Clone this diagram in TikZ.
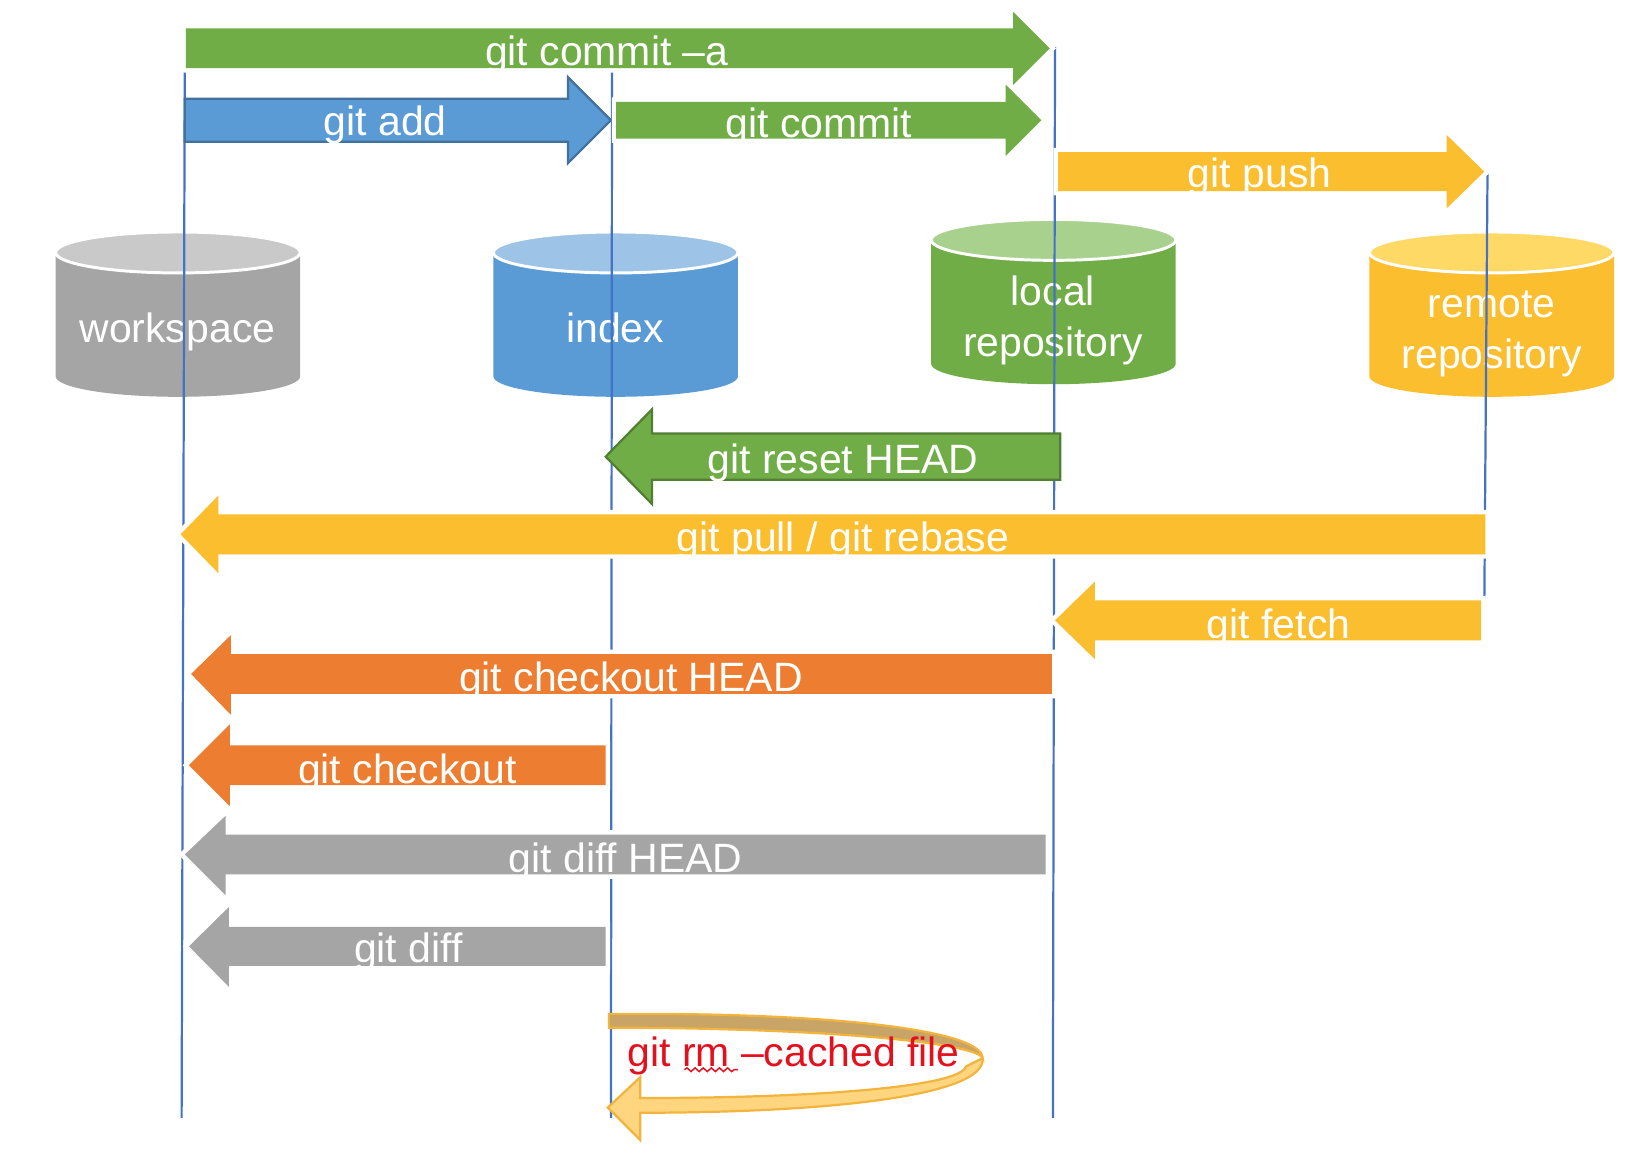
\documentclass[tikz,border=0pt]{standalone}
\usepackage{fontspec}
\setmainfont{Liberation Sans}
\usepackage{tikz}
\usetikzlibrary{decorations.pathmorphing}

\definecolor{gitgreen}{HTML}{70AD47}
\definecolor{gitgreenlt}{HTML}{A9D18E}
\definecolor{gitgreendk}{HTML}{507E32}
\definecolor{gitblue}{HTML}{5B9BD5}
\definecolor{gitbluelt}{HTML}{9DC3E6}
\definecolor{gitbluedk}{HTML}{41719C}
\definecolor{gitgold}{HTML}{FBBE2E}
\definecolor{gitgoldlt}{HTML}{FFD966}
\definecolor{gitorange}{HTML}{ED7D31}
\definecolor{gitgray}{HTML}{A5A5A5}
\definecolor{gitgraylt}{HTML}{C9C9C9}
\definecolor{lifeblue}{HTML}{4472C4}
\definecolor{ribbon}{HTML}{FFD580}
\definecolor{ribbonback}{HTML}{C9A467}
\definecolor{ribbonedge}{HTML}{F2B43C}
\definecolor{rmred}{HTML}{E3101E}

\begin{document}
\begin{tikzpicture}[
    blk/.style={fill=#1, preaction={draw=white, line width=2.4pt}},
    lbl/.style={text=white, inner sep=0pt, anchor=base, font=\fontsize{11.1pt}{13.9pt}\selectfont},
    life/.style={lifeblue, line width=0.6pt},
    pics/db/.style 2 args={code={
      \fill[#1] (-1.165,0) -- (-1.165,-1.18) arc[start angle=180, end angle=360, x radius=1.165, y radius=0.195] -- (1.165,0) -- cycle;
      \filldraw[fill=#2, draw=white, line width=0.8pt] (0,0) ellipse [x radius=1.165, y radius=0.195];
    }}]
  \useasboundingbox (0,0) rectangle (15.68,-11.20);

  % the four stores
  \pic at (1.695,-2.405) {db={gitgray}{gitgraylt}};
  \pic at (5.865,-2.405) {db={gitblue}{gitbluelt}};
  \pic at (10.035,-2.285) {db={gitgreen}{gitgreenlt}};
  \pic at (14.21,-2.405) {db={gitgold}{gitgoldlt}};
  \node (ws) [lbl] at (1.69,-3.26) {workspace};
  \node (ix) [lbl] at (5.86,-3.26) {index};
  \node (lo) [lbl, align=center] at (10.03,-3.40) {local\\repository};
  \node (re) [lbl, align=center] at (14.21,-3.51) {remote\\repository};

  % life lines
  \coordinate (ws top) at (1.76,-0.67);   \coordinate (ws bot) at (1.73,-10.65);
  \coordinate (ix top) at (5.83,-0.67);   \coordinate (ix bot) at (5.82,-10.65);
  \coordinate (lo top) at (10.05,-0.45);  \coordinate (lo bot) at (10.03,-10.65);
  \coordinate (re top) at (14.17,-1.65);  \coordinate (re bot) at (14.14,-5.70);
  \draw[life] (ws top) -- (ws bot)  (ix top) -- (ix bot)
              (lo top) -- (lo bot)  (re top) -- (re bot);

  % forward
  \fill[blk=gitgreen] (1.77,-0.27) -- (9.65,-0.27) -- (9.65,-0.11) -- (10.00,-0.46) -- (9.65,-0.81) -- (9.65,-0.65) -- (1.77,-0.65) -- cycle;
  \filldraw[fill=gitblue, draw=gitbluedk, line width=0.6pt] (1.76,-0.94) -- (5.41,-0.94) -- (5.41,-0.735) -- (5.82,-1.145) -- (5.41,-1.555) -- (5.41,-1.35) -- (1.76,-1.35) -- cycle;
  \fill[blk=gitgreen] (5.87,-0.97) -- (9.58,-0.97) -- (9.58,-0.805) -- (9.92,-1.145) -- (9.58,-1.485) -- (9.58,-1.32) -- (5.87,-1.32) -- cycle;
  \fill[blk=gitgold] (10.08,-1.45) -- (13.78,-1.45) -- (13.78,-1.285) -- (14.14,-1.635) -- (13.78,-1.985) -- (13.78,-1.82) -- (10.08,-1.82) -- cycle;
  \node (commita) [lbl] at (5.78,-0.62) {git commit –a};
  \node (add) [lbl] at (3.67,-1.29) {git add};
  \node (commit) [lbl] at (7.80,-1.31) {git commit};
  \node (push) [lbl] at (12.00,-1.79) {git push};

  % backward
  \filldraw[fill=gitgreen, draw=gitgreendk, line width=0.6pt] (5.77,-4.35) -- (6.21,-3.90) -- (6.21,-4.13) -- (10.10,-4.13) -- (10.10,-4.57) -- (6.21,-4.57) -- (6.21,-4.80) -- cycle;
  \fill[blk=gitgold] (1.72,-5.09) -- (2.08,-4.72) -- (2.08,-4.90) -- (14.15,-4.90) -- (14.15,-5.28) -- (2.08,-5.28) -- (2.08,-5.46) -- cycle;
  \fill[blk=gitgold] (10.05,-5.91) -- (10.43,-5.54) -- (10.43,-5.72) -- (14.11,-5.72) -- (14.11,-6.10) -- (10.43,-6.10) -- (10.43,-6.28) -- cycle;
  \fill[blk=gitorange] (1.82,-6.42) -- (2.20,-6.05) -- (2.20,-6.23) -- (10.02,-6.23) -- (10.02,-6.61) -- (2.20,-6.61) -- (2.20,-6.81) -- cycle;
  \fill[blk=gitorange] (1.80,-7.29) -- (2.19,-6.90) -- (2.19,-7.10) -- (5.77,-7.10) -- (5.77,-7.48) -- (2.19,-7.48) -- (2.19,-7.68) -- cycle;
  \fill[blk=gitgray] (1.76,-8.14) -- (2.15,-7.77) -- (2.15,-7.95) -- (9.96,-7.95) -- (9.96,-8.33) -- (2.15,-8.33) -- (2.15,-8.53) -- cycle;
  \fill[blk=gitgray] (1.80,-9.015) -- (2.18,-8.64) -- (2.18,-8.83) -- (5.77,-8.83) -- (5.77,-9.20) -- (2.18,-9.20) -- (2.18,-9.40) -- cycle;
  \node (reset) [lbl] at (8.03,-4.51) {git reset HEAD};
  \node (pull) [lbl] at (8.03,-5.25) {git pull / git rebase};
  \node (fetch) [lbl] at (12.18,-6.08) {git fetch};
  \node (cohead) [lbl] at (6.01,-6.59) {git checkout HEAD};
  \node (co) [lbl] at (3.88,-7.46) {git checkout};
  \node (diffhead) [lbl] at (5.96,-8.31) {git diff HEAD};
  \node (diff) [lbl] at (3.89,-9.17) {git diff};

  % loop back onto the index
  \filldraw[fill=ribbonback, draw=ribbonedge, line width=0.6pt] (5.80,-9.66) .. controls (7.8,-9.64) and (9.36,-9.80) .. (9.36,-10.08) .. controls (9.30,-9.93) and (7.8,-9.79) .. (5.80,-9.79) -- cycle;
  \filldraw[fill=ribbon, draw=ribbonedge, line width=0.6pt] (9.36,-10.08) .. controls (9.40,-10.45) and (7.8,-10.60) .. (6.10,-10.60) -- (6.10,-10.86) -- (5.79,-10.55) -- (6.10,-10.26) -- (6.10,-10.46) .. controls (7.8,-10.46) and (9.15,-10.35) .. (9.20,-10.16) -- cycle;
  \node (rm) [lbl, text=rmred] at (7.56,-10.16) {git rm –cached file};
  \draw[rmred, line width=0.4pt, decorate, decoration={snake, amplitude=0.5pt, segment length=2.2pt}]
    ([xshift=0.55cm, yshift=-0.03cm]rm.base west) -- ([xshift=1.06cm, yshift=-0.03cm]rm.base west);
\end{tikzpicture}
\end{document}
